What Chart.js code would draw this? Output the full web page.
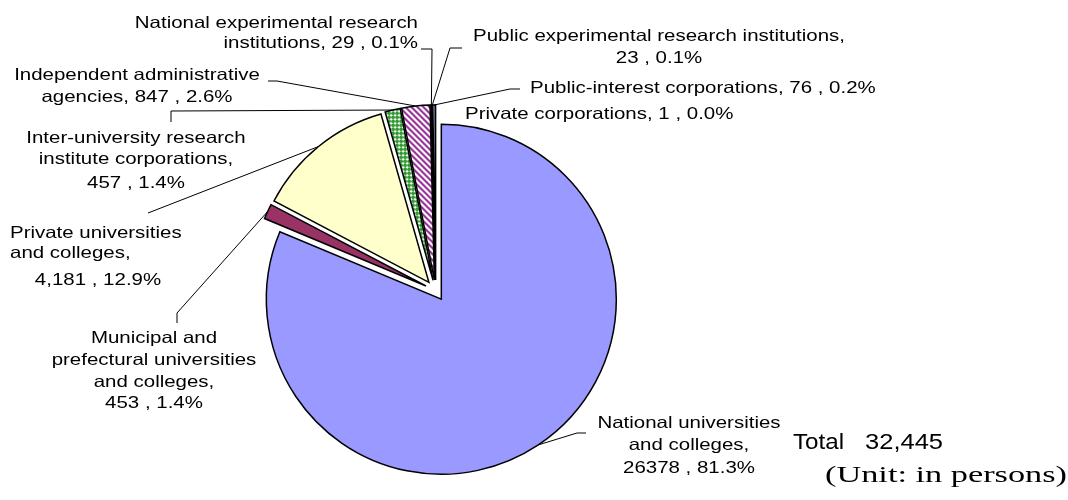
<!DOCTYPE html>
<html>
<head>
<meta charset="utf-8">
<script src="https://cdn.jsdelivr.net/npm/chart.js@4.4.0/dist/chart.umd.min.js"></script>
<style>
  html, body { margin: 0; padding: 0; background: #fff; }
</style>
</head>
<body>
<canvas id="pieCanvas" width="1068" height="500"></canvas>
<script>
const categories = [
  'National universities and colleges',
  'Municipal and prefectural universities and colleges',
  'Private universities and colleges',
  'Inter-university research institute corporations',
  'Independent administrative agencies',
  'National experimental research institutions',
  'Public experimental research institutions',
  'Public-interest corporations',
  'Private corporations'
];
const persons = [26378, 453, 4181, 457, 847, 29, 23, 76, 1];
const labelText = [
  ['National universities', 'and colleges,', '26378 , 81.3%'],
  ['Municipal and', 'prefectural universities', 'and colleges,', '453 , 1.4%'],
  ['Private universities', 'and colleges,', '4,181 , 12.9%'],
  ['Inter-university research', 'institute corporations,', '457 , 1.4%'],
  ['Independent administrative', 'agencies, 847 , 2.6%'],
  ['National experimental research', 'institutions, 29 , 0.1%'],
  ['Public experimental research institutions,', '23 , 0.1%'],
  ['Public-interest corporations, 76 , 0.2%'],
  ['Private corporations, 1 , 0.0%']
];
const totalLabel = 'Total';
const totalValue = '32,445';
const unitLabel = '(Unit: in persons)';

// where each label line sits and how its leader line bends
const labelLayout = [
  { lines: [[689, 423, 'center'], [689, 445, 'center'], [689, 468, 'center']], leader: [[586, 433], [577, 433]] },
  { lines: [[154, 338, 'center'], [154, 360, 'center'], [154, 382, 'center'], [154, 403, 'center']], leader: [[177, 323], [177, 313]] },
  { lines: [[10, 233, 'left'], [10, 253, 'left'], [98, 280, 'center']], leader: [[148, 213]] },
  { lines: [[136, 138, 'center'], [136, 159, 'center'], [136, 183, 'center']], leader: [[171, 122], [171, 111]] },
  { lines: [[137, 75, 'center'], [137, 97, 'center']], leader: [[268, 81], [277, 81]] },
  { lines: [[418, 23, 'right'], [418, 43, 'right']], leader: [[421, 49], [432, 49]] },
  { lines: [[659, 36, 'center'], [659, 58, 'center']], leader: [[462, 48], [450, 48]] },
  { lines: [[530, 88, 'left']], leader: [[520, 89], [510, 89]] },
  { lines: [[465, 114, 'left']], leader: null }
];

const EXPLODE = 10.5;
const LABEL_FONT = '16.5px "Liberation Sans", Arial, sans-serif';
const LABEL_SX = 1.24;

function makePattern(size, fg, bg, paint) {
  const c = document.createElement('canvas');
  c.width = c.height = size;
  const g = c.getContext('2d');
  g.fillStyle = bg;
  g.fillRect(0, 0, size, size);
  g.fillStyle = fg;
  for (let y = 0; y < size; y++) {
    for (let x = 0; x < size; x++) {
      if (paint(x, y)) g.fillRect(x, y, 1, 1);
    }
  }
  return g.createPattern(c, 'repeat');
}

const greenCross = makePattern(4, '#FFFFFF', '#339933', (x, y) => (x === 1 && y < 3) || (y === 1 && x < 3));
const purpleStripe = makePattern(6, '#993399', '#FFFFFF', (x, y) => ((x - y + 6) % 6) < 3);

const sliceColors = ['#9999FF', '#993366', '#FFFFCC', greenCross, purpleStripe, '#CCCCFF', '#CCCCFF', '#CCCCFF', '#CCCCFF'];

function drawText(ctx, s, x, y, align, font, sx) {
  ctx.save();
  ctx.font = font;
  ctx.textAlign = align;
  ctx.textBaseline = 'middle';
  ctx.fillStyle = '#000';
  ctx.translate(x, y);
  ctx.scale(sx, 1);
  ctx.fillText(s, 0, 0);
  ctx.restore();
}

// pull every slice out along its own middle angle
const explodePlugin = {
  id: 'explode',
  beforeDatasetDraw(chart, args) {
    const ctx = chart.ctx;
    args.meta.data.forEach(arc => {
      const mid = (arc.startAngle + arc.endAngle) / 2;
      ctx.save();
      ctx.translate(Math.cos(mid) * EXPLODE, Math.sin(mid) * EXPLODE);
      arc.draw(ctx);
      ctx.restore();
    });
    return false;
  }
};

const labelPlugin = {
  id: 'sliceLabels',
  afterDraw(chart) {
    const ctx = chart.ctx;
    const arcs = chart.getDatasetMeta(0).data;
    ctx.save();
    ctx.strokeStyle = '#000';
    ctx.lineWidth = 1;
    arcs.forEach((arc, i) => {
      const lay = labelLayout[i];
      if (lay.leader) {
        const mid = (arc.startAngle + arc.endAngle) / 2;
        const r = arc.outerRadius + EXPLODE;
        ctx.beginPath();
        lay.leader.forEach((p, k) => (k ? ctx.lineTo(p[0], p[1]) : ctx.moveTo(p[0], p[1])));
        ctx.lineTo(arc.x + Math.cos(mid) * r, arc.y + Math.sin(mid) * r);
        ctx.stroke();
      }
      labelText[i].forEach((s, k) => {
        const [x, y, align] = lay.lines[k];
        drawText(ctx, s, x, y, align, LABEL_FONT, LABEL_SX);
      });
    });
    ctx.restore();

    drawText(ctx, totalLabel, 793, 443, 'left', '22px "Liberation Sans", Arial, sans-serif', 1.1);
    drawText(ctx, totalValue, 865, 443, 'left', '22px "Liberation Sans", Arial, sans-serif', 1.16);
    ctx.save();
    ctx.font = '24px "Liberation Serif", "Times New Roman", serif';
    const w = ctx.measureText(unitLabel).width;
    ctx.restore();
    drawText(ctx, unitLabel, 825, 476, 'left', '24px "Liberation Serif", "Times New Roman", serif', 242 / w);
  }
};

const pieCanvas = document.getElementById('pieCanvas');

const pieChart = new Chart(pieCanvas, {
  type: 'pie',
  data: {
    labels: categories,
    datasets: [{
      data: persons,
      backgroundColor: sliceColors,
      borderColor: '#000000',
      borderWidth: 1.5,
      borderJoinStyle: 'miter'
    }]
  },
  options: {
    responsive: false,
    animation: false,
    radius: 175,
    layout: {
      padding: { left: 0, right: 197, top: 81, bottom: 0 }
    },
    plugins: {
      legend: { display: false },
      tooltip: { enabled: false }
    }
  },
  plugins: [explodePlugin, labelPlugin]
});
</script>
</body>
</html>
